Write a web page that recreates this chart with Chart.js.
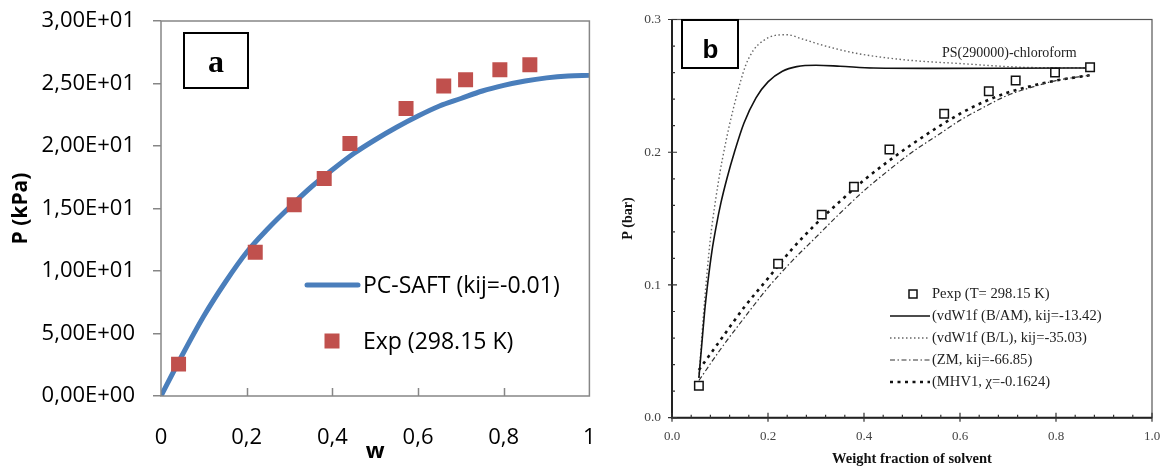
<!DOCTYPE html>
<html>
<head>
<meta charset="utf-8">
<script src="https://cdn.jsdelivr.net/npm/chart.js@4.4.1/dist/chart.umd.min.js"></script>
<style>
  html, body { margin: 0; padding: 0; background: #fff; }
  #wrap { position: relative; width: 1169px; height: 468px; overflow: hidden; }
  canvas { position: absolute; top: 0; }
  #cv-a { left: 0; }
  #cv-b { left: 600px; }
</style>
</head>
<body>
<div id="wrap">
  <canvas id="cv-a" width="600" height="468"></canvas>
  <canvas id="cv-b" width="569" height="468"></canvas>
</div>
<script>
// ============================================================
//  DATA
// ============================================================
// panel a : PC-SAFT vs experiment, P in kPa
const wExpA  = [0.041, 0.22, 0.311, 0.381, 0.441, 0.572, 0.66, 0.711, 0.791, 0.861];
const pExpA  = [2.55, 11.5, 15.3, 17.4, 20.2, 23.0, 24.8, 25.3, 26.1, 26.5];
const wSaft  = [0, 0.05, 0.1, 0.15, 0.2, 0.25, 0.3, 0.35, 0.4, 0.45, 0.5, 0.55, 0.6, 0.65, 0.7, 0.75, 0.8, 0.85, 0.9, 0.95, 1.0];
const pSaft  = [0, 3.3, 6.4, 9.1, 11.5, 13.4, 15.1, 16.7, 18.1, 19.4, 20.5, 21.5, 22.4, 23.2, 23.8, 24.4, 24.85, 25.2, 25.45, 25.6, 25.65];
const yTicksA = [0, 5, 10, 15, 20, 25, 30];

// panel b : PS(290000)-chloroform, P in bar
const wExpB  = [0.056, 0.221, 0.312, 0.379, 0.453, 0.567, 0.66, 0.716, 0.798, 0.871];
const pExpB  = [0.024, 0.116, 0.153, 0.174, 0.202, 0.229, 0.246, 0.254, 0.260, 0.264];
const wBAM   = [0.056, 0.062, 0.068, 0.075, 0.083, 0.092, 0.102, 0.115, 0.13, 0.15, 0.175, 0.2, 0.23, 0.26, 0.3, 0.35, 0.42, 0.55, 0.7, 0.87];
const pBAM   = [0.030, 0.055, 0.080, 0.103, 0.125, 0.144, 0.162, 0.181, 0.200, 0.222, 0.241, 0.253, 0.261, 0.2645, 0.2655, 0.2648, 0.2635, 0.2632, 0.2633, 0.2635];
const wBL    = [0.056, 0.06, 0.065, 0.072, 0.08, 0.09, 0.1, 0.11, 0.12, 0.135, 0.153, 0.17, 0.19, 0.215, 0.24, 0.27, 0.31, 0.38, 0.48, 0.6, 0.75, 0.87];
const pBL    = [0.030, 0.050, 0.075, 0.105, 0.135, 0.162, 0.185, 0.204, 0.221, 0.243, 0.265, 0.277, 0.284, 0.288, 0.2885, 0.2855, 0.281, 0.2748, 0.2698, 0.2668, 0.2638, 0.2635];
const wModel = [0.056, 0.1, 0.15, 0.2, 0.25, 0.3, 0.35, 0.4, 0.45, 0.5, 0.55, 0.6, 0.65, 0.7, 0.75, 0.8, 0.87];
const pZM    = [0.028, 0.051, 0.075, 0.098, 0.118, 0.136, 0.154, 0.171, 0.186, 0.200, 0.212, 0.224, 0.234, 0.243, 0.249, 0.254, 0.258];
const pMHV1  = [0.036, 0.058, 0.083, 0.105, 0.127, 0.146, 0.163, 0.179, 0.193, 0.206, 0.218, 0.229, 0.238, 0.245, 0.250, 0.254, 0.258];

const pts = (xs, ys) => xs.map((x, i) => ({ x, y: ys[i] }));

// "3,00E+01" style labels as in the spreadsheet
const fmtSci = v => {
  if (v === 0) return '0,00E+00';
  const e = Math.floor(Math.log10(Math.abs(v)) + 1e-9);
  const m = v / Math.pow(10, e);
  return m.toFixed(2).replace('.', ',') + 'E' + (e < 0 ? '-' : '+') + String(Math.abs(e)).padStart(2, '0');
};

// fixed axis boxes, and no extra room for the end labels
const fixX = h => s => { s.height = h; s.paddingLeft = 0; s.paddingRight = 0; };
const fixY = w => s => { s.width = w; s.paddingTop = 0; s.paddingBottom = 0; };

const SANS = '"Open Sans", sans-serif';
const SERIF = '"Liberation Serif", "Times New Roman", serif';

// ============================================================
//  PANEL A
// ============================================================
const decoA = {
  id: 'decoA',
  afterDraw(chart) {
    const { ctx, chartArea: a, scales: { x } } = chart;
    const exp = chart.data.datasets[0], saft = chart.data.datasets[1];
    ctx.save();
    // plot frame
    ctx.strokeStyle = '#868686'; ctx.lineWidth = 1.5;
    ctx.strokeRect(a.left, a.top, a.right - a.left, a.bottom - a.top);
    // x tick marks point up into the plot
    ctx.beginPath();
    [0.2, 0.4, 0.6, 0.8].forEach(v => {
      const px = Math.round(x.getPixelForValue(v)) + 0.5;
      ctx.moveTo(px, a.bottom); ctx.lineTo(px, a.bottom - 8);
    });
    ctx.stroke();
    // legend
    ctx.strokeStyle = saft.borderColor; ctx.lineWidth = 5; ctx.lineCap = 'round';
    ctx.beginPath(); ctx.moveTo(307, 285); ctx.lineTo(358, 285); ctx.stroke();
    ctx.fillStyle = exp.backgroundColor;
    ctx.fillRect(324.5, 333.5, 15, 15);
    ctx.fillStyle = '#000'; ctx.font = `23px ${SANS}`; ctx.textBaseline = 'middle'; ctx.textAlign = 'left';
    ctx.fillText(saft.label, 363, 286);
    ctx.fillText(exp.label, 363, 342);
    // "a" tag box
    ctx.strokeStyle = '#000'; ctx.lineWidth = 2;
    ctx.strokeRect(184, 33, 64, 55);
    ctx.font = `bold 32px ${SERIF}`; ctx.textAlign = 'center'; ctx.textBaseline = 'alphabetic';
    ctx.fillText('a', 216, 72);
    ctx.restore();
  }
};

new Chart(document.getElementById('cv-a'), {
  type: 'scatter',
  data: {
    datasets: [
      { label: 'Exp (298.15 K)', data: pts(wExpA, pExpA), showLine: false,
        pointStyle: 'rect', pointRadius: 10.6, pointBorderWidth: 0,
        backgroundColor: '#C0504D', borderColor: '#C0504D' },
      { label: 'PC-SAFT (kij=-0.01)', data: pts(wSaft, pSaft), showLine: true,
        borderColor: '#4A7EBB', backgroundColor: '#4A7EBB', borderWidth: 5,
        pointRadius: 0, cubicInterpolationMode: 'monotone', fill: false }
    ]
  },
  options: {
    responsive: false, animation: false, devicePixelRatio: 1,
    layout: { padding: { left: 0, top: 21, right: 10, bottom: 0 } },
    plugins: { legend: { display: false }, tooltip: { enabled: false } },
    scales: {
      x: {
        type: 'linear', min: 0, max: 1,
        afterFit: fixX(72),
        ticks: { stepSize: 0.2, padding: 29, color: '#000', font: { family: SANS, size: 22 }, maxRotation: 0,
                 callback: v => String(Math.round(v * 10) / 10).replace('.', ',') },
        grid: { display: false, drawTicks: false }, border: { display: false },
        title: { display: true, text: 'w', color: '#000', font: { family: SANS, size: 22, weight: 'bold' },
                 padding: { top: 0, bottom: 3 } }
      },
      y: {
        min: 0, max: 30,
        afterFit: fixY(161),
        afterBuildTicks: s => { s.ticks = yTicksA.map(v => ({ value: v })); },
        ticks: { padding: 18, color: '#000', font: { family: SANS, size: 22 }, callback: v => fmtSci(v) },
        grid: { drawOnChartArea: false, drawTicks: true, tickLength: 8, color: '#868686', lineWidth: 1.5 },
        border: { display: false },
        title: { display: true, text: 'P (kPa)', color: '#000', font: { family: SANS, size: 21, weight: 'bold' },
                 padding: { top: 8, bottom: 0 } }
      }
    }
  },
  plugins: [decoA]
});

// ============================================================
//  PANEL B
// ============================================================
const decoB = {
  id: 'decoB',
  afterDraw(chart) {
    const { ctx, chartArea: a, scales: { x, y } } = chart;
    const ds = chart.data.datasets;
    ctx.save();
    // frame: heavier axes, light top/right
    ctx.strokeStyle = '#555'; ctx.lineWidth = 1.2;
    ctx.strokeRect(a.left, a.top, a.right - a.left, a.bottom - a.top);
    ctx.strokeStyle = '#222'; ctx.lineWidth = 2;
    ctx.beginPath();
    ctx.moveTo(a.left, a.top); ctx.lineTo(a.left, a.bottom); ctx.lineTo(a.right, a.bottom);
    ctx.stroke();
    // minor / major tick marks
    ctx.lineWidth = 1.2; ctx.strokeStyle = '#333';
    ctx.beginPath();
    for (let i = 0; i <= 15; i++) {
      const v = i * 0.02, py = y.getPixelForValue(v), major = i % 5 === 0;
      ctx.moveTo(a.left - (major ? 4 : 0), py); ctx.lineTo(a.left + (major ? 5 : 3), py);
    }
    for (let i = 0; i <= 25; i++) {
      const v = i * 0.04, px = x.getPixelForValue(v), major = i % 5 === 0;
      ctx.moveTo(px, a.bottom + (major ? 4 : 0)); ctx.lineTo(px, a.bottom - (major ? 5 : 3));
    }
    ctx.stroke();
    // system label
    ctx.fillStyle = '#222'; ctx.font = `14px ${SERIF}`; ctx.textAlign = 'left'; ctx.textBaseline = 'alphabetic';
    ctx.fillText('PS(290000)-chloroform', 342, 57);
    // legend, samples use each dataset's own style
    const rows = [294, 316, 338, 360, 382];
    ctx.font = `14.6px ${SERIF}`; ctx.textBaseline = 'middle';
    ds.forEach((d, i) => {
      const ry = rows[i];
      if (i === 0) {
        ctx.setLineDash([]); ctx.strokeStyle = d.borderColor; ctx.lineWidth = 1.5;
        ctx.strokeRect(309, ry - 4, 8, 8);
      } else {
        ctx.setLineDash(d.borderDash || []); ctx.strokeStyle = d.borderColor; ctx.lineWidth = d.borderWidth;
        ctx.beginPath(); ctx.moveTo(290, ry); ctx.lineTo(330, ry); ctx.stroke();
      }
      ctx.setLineDash([]);
      ctx.fillStyle = '#222';
      ctx.fillText(d.label, 332, ry);
    });
    // "b" tag box
    ctx.strokeStyle = '#000'; ctx.lineWidth = 2;
    ctx.strokeRect(82, 20, 56, 48);
    ctx.fillStyle = '#000'; ctx.font = 'bold 26px "Liberation Sans", Arial, sans-serif';
    ctx.textAlign = 'center'; ctx.textBaseline = 'alphabetic';
    ctx.fillText('b', 110.5, 58);
    ctx.restore();
  }
};

const lineB = (label, xs, ys, color, width, dash) => ({
  label, data: pts(xs, ys), showLine: true, borderColor: color, backgroundColor: color,
  borderWidth: width, borderDash: dash, pointRadius: 0, cubicInterpolationMode: 'monotone', fill: false
});

new Chart(document.getElementById('cv-b'), {
  type: 'scatter',
  data: {
    datasets: [
      { label: 'Pexp (T= 298.15 K)', data: pts(wExpB, pExpB), showLine: false,
        pointStyle: 'rect', pointRadius: 6, pointBorderWidth: 1.5,
        backgroundColor: '#fff', borderColor: '#111' },
      lineB('(vdW1f (B/AM), kij=-13.42)', wBAM, pBAM, '#111', 1.6, []),
      lineB('(vdW1f (B/L), kij=-35.03)', wBL, pBL, '#666', 1.4, [1.5, 2.5]),
      lineB('(ZM, kij=-66.85)', wModel, pZM, '#333', 1.2, [5, 2.5, 1.5, 2.5]),
      lineB('(MHV1, \u03C7=-0.1624)', wModel, pMHV1, '#111', 2.6, [3, 4.5])
    ]
  },
  options: {
    responsive: false, animation: false, devicePixelRatio: 1,
    layout: { padding: { left: 0, top: 19.5, right: 17, bottom: 0 } },
    plugins: { legend: { display: false }, tooltip: { enabled: false } },
    scales: {
      x: {
        type: 'linear', min: 0, max: 1,
        afterFit: fixX(50.3),
        ticks: { stepSize: 0.2, padding: 11, color: '#444', font: { family: SERIF, size: 13 }, maxRotation: 0,
                 callback: v => v.toFixed(1) },
        grid: { display: false, drawTicks: false }, border: { display: false },
        title: { display: true, text: 'Weight fraction of solvent', color: '#111',
                 font: { family: SERIF, size: 14.5, weight: 'bold' }, padding: { top: 0, bottom: 0 } }
      },
      y: {
        min: 0, max: 0.3,
        afterFit: fixY(72),
        ticks: { stepSize: 0.1, padding: 11, color: '#444', font: { family: SERIF, size: 13.5 },
                 callback: v => v.toFixed(1) },
        grid: { display: false, drawTicks: false }, border: { display: false },
        title: { display: true, text: 'P (bar)', color: '#111', font: { family: SERIF, size: 14, weight: 'bold' },
                 padding: { top: 20, bottom: 0 } }
      }
    }
  },
  plugins: [decoB]
});
</script>
</body>
</html>
